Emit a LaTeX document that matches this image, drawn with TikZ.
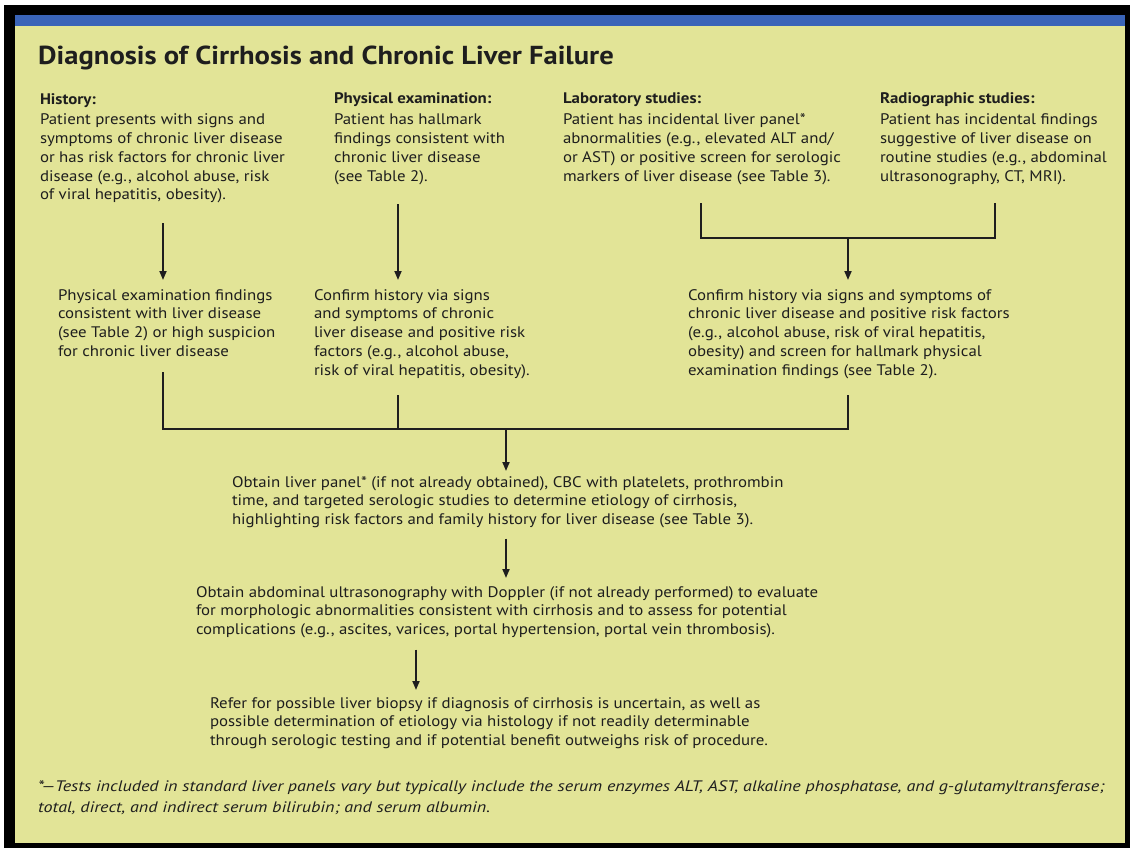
\documentclass[tikz,border=0pt]{standalone}
\usepackage{fontspec}
\setmainfont{PT Sans}[FakeStretch=1.1]
\newfontfamily\fnfont{PT Sans}[FakeStretch=1.19]
\usetikzlibrary{arrows.meta,calc}
\definecolor{bgy}{HTML}{E2E497}
\definecolor{barblue}{HTML}{3A64B8}
\definecolor{ink}{HTML}{1E1E1E}
\newcommand{\bodyfont}{\fontsize{15.3pt}{18.8pt}\selectfont}
\newcommand{\topst}{\rule{0pt}{12pt}}
\newcommand{\botst}{\rule[-5pt]{0pt}{5pt}}
\tikzset{
 txt/.style={anchor=north west, inner sep=0pt, outer sep=0pt, align=left, font=\bodyfont, text=ink},
 ln/.style={draw=ink, line width=1.8pt},
 arr/.style={ln, -{Triangle[length=9pt,width=7pt]}},
}
\begin{document}
\begin{tikzpicture}[x=1pt,y=1pt]
\useasboundingbox (0,0) rectangle (1130,-848);
\fill[white] (0,0) rectangle (1130,-848);
\fill[black] (4,-5) rectangle (1130,-848);
\fill[bgy] (15,-15) rectangle (1125,-843);
\fill[barblue] (15,-15) rectangle (1125,-26);

\node[anchor=base west, inner sep=0pt, font=\fontsize{26pt}{32pt}\selectfont\bfseries, text=ink] (title) at (38,-65) {Diagnosis of Cirrhosis and Chronic Liver Failure};

\node[txt] (hist) at (40,-92) {\topst\textbf{History:}\\[2pt]
Patient presents with signs and\\
symptoms of chronic liver disease\\
or has risk factors for chronic liver\\
disease (e.g., alcohol abuse, risk\\
of viral hepatitis, obesity).\botst};
\node[txt] (phys) at (334,-92) {\topst\textbf{Physical examination:}\\[2pt]
Patient has hallmark\\
findings consistent with\\
chronic liver disease\\
(see Table 2).\botst};
\node[txt] (lab) at (563,-92) {\topst\textbf{Laboratory studies:}\\[2pt]
Patient has incidental liver panel*\\
abnormalities (e.g., elevated ALT and/\\
or AST) or positive screen for serologic\\
markers of liver disease (see Table 3).\botst};
\node[txt] (rad) at (880,-92) {\topst\textbf{Radiographic studies:}\\[2pt]
Patient has incidental findings\\
suggestive of liver disease on\\
routine studies (e.g., abdominal\\
ultrasonography, CT, MRI).\botst};

\node[txt] (pef) at (58,-288) {\topst Physical examination findings\\
consistent with liver disease\\
(see Table 2) or high suspicion\\
for chronic liver disease\botst};
\node[txt] (conf1) at (314,-288) {\topst Confirm history via signs\\
and symptoms of chronic\\
liver disease and positive risk\\
factors (e.g., alcohol abuse,\\
risk of viral hepatitis, obesity).\botst};
\node[txt] (conf2) at (688,-288) {\topst Confirm history via signs and symptoms of\\
chronic liver disease and positive risk factors\\
(e.g., alcohol abuse, risk of viral hepatitis,\\
obesity) and screen for hallmark physical\\
examination findings (see Table 2).\botst};

\node[txt] (panel) at (232,-475) {\topst Obtain liver panel* (if not already obtained), CBC with platelets, prothrombin\\
time, and targeted serologic studies to determine etiology of cirrhosis,\\
highlighting risk factors and family history for liver disease (see Table 3).\botst};
\node[txt] (us) at (196,-585) {\topst Obtain abdominal ultrasonography with Doppler (if not already performed) to evaluate\\
for morphologic abnormalities consistent with cirrhosis and to assess for potential\\
complications (e.g., ascites, varices, portal hypertension, portal vein thrombosis).\botst};
\node[txt] (bx) at (210,-696) {\topst Refer for possible liver biopsy if diagnosis of cirrhosis is uncertain, as well as\\
possible determination of etiology via histology if not readily determinable\\
through serologic testing and if potential benefit outweighs risk of procedure.\botst};

\node[txt, font=\fnfont\fontsize{15.2pt}{21pt}\selectfont\itshape] (fn) at (38,-779) {\topst *—Tests included in standard liver panels vary but typically include the serum enzymes ALT, AST, alkaline phosphatase, and g-glutamyltransferase;\\
total, direct, and indirect serum bilirubin; and serum albumin.\botst};

\coordinate (xh) at (163,0);
\coordinate (xp) at (398,0);
\coordinate (xl) at (701,0);
\coordinate (xr) at (995,0);
\coordinate (jl) at (701,-238);
\coordinate (jr) at (995,-238);
\coordinate (jc) at (848,-238);
\coordinate (jb1) at (163,-429);
\coordinate (jb2) at (398,-429);
\coordinate (jb3) at (848,-429);
\coordinate (jm) at (506,-429);
\coordinate (xm) at (506,0);
\coordinate (xb) at (416,0);

\draw[arr] ($(hist.south -| xh)+(0,-18)$) -- ($(pef.north -| xh)+(0,8)$);
\draw[arr] ($(phys.south -| xp)+(0,-18)$) -- ($(conf1.north -| xp)+(0,8)$);
\draw[ln] ($(lab.south -| xl)+(0,-17)$) -- (jl) -- (jr) -- ($(rad.south -| xr)+(0,-17)$);
\draw[arr] (jc) -- ($(conf2.north -| jc)+(0,8)$);
\draw[ln] ($(pef.south -| xh)+(0,-11)$) -- (jb1) -- (jb3) -- ($(conf2.south -| jc)+(0,-15)$);
\draw[ln] ($(conf1.south -| xp)+(0,-15)$) -- (jb2);
\draw[arr] (jm) -- ($(panel.north -| jm)+(0,4)$);
\draw[arr] ($(panel.south -| xm)+(0,-9)$) -- ($(us.north -| xm)+(0,7)$);
\draw[arr] ($(us.south -| xb)+(0,-10)$) -- ($(bx.north -| xb)+(0,6)$);
\end{tikzpicture}
\end{document}
